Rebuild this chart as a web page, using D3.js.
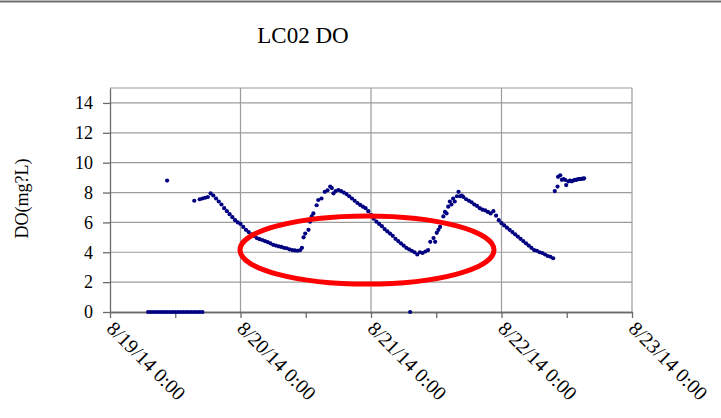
<!DOCTYPE html>
<html>
<head>
<meta charset="utf-8">
<script src="https://cdn.jsdelivr.net/npm/d3@7"></script>
<style>
  body { margin: 0; background: #fff; }
  text { font-family: "Liberation Serif", "Times New Roman", serif; fill: #000; }
</style>
</head>
<body>
<div id="chart"></div>
<script>
// LC02 dissolved oxygen, logger readings as [hours since 8/19/14 0:00, mg/L]
const zeroRun = [
  [7, 0], [7.5, 0], [8, 0], [8.5, 0], [9, 0], [9.5, 0], [10, 0], [10.5, 0], [11, 0],
  [11.5, 0], [12, 0], [12.5, 0], [13, 0], [13.5, 0], [14, 0], [14.5, 0], [15, 0],
  [15.5, 0], [16, 0], [16.5, 0], [17, 0]
]
const strays = [[10.5, 8.8], [55.2, 0]]
const day1 = [
  [15.5, 7.45], [16.5, 7.55], [17, 7.6], [17.5, 7.65], [18, 7.7], [18.5, 7.95], [19, 7.8],
  [19.5, 7.6], [20, 7.4], [20.5, 7.2], [21, 6.95], [21.5, 6.75], [22, 6.55], [22.5, 6.35],
  [23, 6.15], [23.5, 6.0], [24, 5.9], [24.5, 5.7], [25, 5.5], [25.5, 5.35], [26, 5.2],
  [26.5, 5.1], [27, 4.95], [27.5, 4.88], [28, 4.82], [28.5, 4.75], [29, 4.68], [29.5, 4.6],
  [30, 4.5], [30.5, 4.45], [31, 4.4], [31.5, 4.36], [32, 4.3], [32.5, 4.27], [33, 4.2],
  [33.5, 4.15], [34, 4.12], [34.5, 4.1], [35, 4.15], [35.3, 4.3]
]
const day2 = [
  [35.6, 5.0], [35.9, 5.25], [36.5, 5.5], [36.8, 6.05], [37.1, 6.4], [37.4, 6.6], [38, 7.15],
  [38.3, 7.5], [38.9, 7.6], [39.5, 8.05], [40, 8.15], [40.5, 8.4], [40.8, 8.3], [41.1, 7.95],
  [41.5, 8.1], [42, 8.17], [42.5, 8.1], [43, 8.0], [43.5, 7.9], [44, 7.75], [44.5, 7.6],
  [45, 7.45], [45.5, 7.3], [46, 7.17], [46.5, 7.05], [47, 6.95], [47.5, 6.75], [48, 6.5],
  [48.5, 6.25], [49, 6.05], [49.5, 5.9], [50, 5.75], [50.5, 5.55], [51, 5.4], [51.5, 5.25],
  [52, 5.1], [52.5, 4.9], [53, 4.75], [53.5, 4.6], [54, 4.45], [54.5, 4.3], [55, 4.2],
  [55.5, 4.1], [56, 4.0], [56.5, 3.85], [57, 4.0], [57.5, 3.95], [58, 4.05], [58.5, 4.15]
]
const day3 = [
  [58.9, 4.7], [59.5, 4.95], [59.8, 4.7], [60.1, 5.3], [60.4, 5.5], [60.7, 5.7], [61.3, 6.4],
  [61.6, 6.7], [61.9, 6.6], [62.2, 7.05], [62.5, 7.4], [62.8, 7.2], [63.1, 7.6], [63.4, 7.4],
  [63.8, 7.75], [64.1, 8.05], [64.4, 7.75], [64.7, 7.8], [65, 7.7], [65.5, 7.55], [66, 7.45],
  [66.5, 7.35], [67, 7.2], [67.5, 7.1], [68, 6.95], [68.5, 6.85], [69, 6.8], [69.5, 6.7],
  [70, 6.6], [70.5, 6.75], [71, 6.45], [71.5, 6.15], [72, 5.95], [72.5, 5.8], [73, 5.65],
  [73.5, 5.5], [74, 5.35], [74.5, 5.2], [75, 5.05], [75.5, 4.9], [76, 4.75], [76.5, 4.6],
  [77, 4.45], [77.5, 4.3], [78, 4.15], [78.5, 4.1], [79, 4.0], [79.5, 3.95], [80, 3.85],
  [80.5, 3.75], [81, 3.7], [81.5, 3.6]
]
const day4 = [
  [81.8, 8.1], [82.3, 8.4], [82.4, 9.05], [82.8, 9.15], [83.1, 8.85], [83.4, 8.9], [83.7, 8.85],
  [83.9, 8.5], [84.3, 8.75], [84.6, 8.8], [84.9, 8.75], [85.2, 8.8], [85.5, 8.85], [85.8, 8.85],
  [86.1, 8.9], [86.4, 8.9], [86.7, 8.92], [87, 8.93], [87.2, 8.95]
]

const yTicks = [0, 2, 4, 6, 8, 10, 12, 14]
const xTickLabels = ["8/19/14 0:00", "8/20/14 0:00", "8/21/14 0:00", "8/22/14 0:00", "8/23/14 0:00"]
const titleText = "LC02 DO"
const yLabelText = "DO(mg?L)"

const svgWidth = 721
const svgHeight = 418

let margin = { top: 88, right: 89, bottom: 106, left: 110 }
let width = svgWidth - margin.left - margin.right
let height = svgHeight - margin.top - margin.bottom

let svg = d3
  .select("#chart")
  .append("svg")
  .attr("width", svgWidth)
  .attr("height", svgHeight)

// slide edge line along the top
svg.append("line")
  .attr("x1", 0).attr("x2", svgWidth)
  .attr("y1", 1.5).attr("y2", 1.5)
  .attr("stroke", "#6e6e6e")
  .attr("stroke-width", 2)

svg.append("text")
  .attr("x", 303)
  .attr("y", 43)
  .attr("text-anchor", "middle")
  .style("font-size", "23px")
  .text(titleText)

let chartGroup = svg
  .append("g")
  .attr("transform", `translate(${margin.left}, ${margin.top})`)

const start = new Date(2014, 7, 19)
const toDate = h => new Date(start.getTime() + h * 3600 * 1000)
const dayTicks = xTickLabels.map((_, i) => toDate(i * 24))
const halfDayTicks = d3.range(0, 4).map(i => toDate(i * 24 + 12))

let xTimeScale = d3.scaleTime()
  .domain([dayTicks[0], dayTicks[dayTicks.length - 1]])
  .range([0, width])

let yLinearScale = d3.scaleLinear()
  .domain([0, 15])
  .range([height, 0])

// gridlines
chartGroup.append("g")
  .selectAll("line")
  .data(yTicks.slice(1).concat([15]))
  .enter()
  .append("line")
  .attr("x1", 0).attr("x2", width)
  .attr("y1", d => yLinearScale(d)).attr("y2", d => yLinearScale(d))
  .attr("stroke", "#9c9c9c")
  .attr("stroke-width", 1.2)

chartGroup.append("g")
  .selectAll("line")
  .data(dayTicks.slice(1))
  .enter()
  .append("line")
  .attr("x1", d => xTimeScale(d)).attr("x2", d => xTimeScale(d))
  .attr("y1", 0).attr("y2", height)
  .attr("stroke", "#9c9c9c")
  .attr("stroke-width", 1.2)

// axes
let leftAxis = d3.axisLeft(yLinearScale)
  .tickValues(yTicks)
  .tickSizeInner(7)
  .tickSizeOuter(0)
  .tickPadding(10)

let yAxis = chartGroup.append("g").call(leftAxis)
yAxis.selectAll("text").style("font-size", "18px")

let minorAxis = d3.axisBottom(xTimeScale)
  .tickValues(halfDayTicks)
  .tickSizeInner(6)
  .tickSizeOuter(0)
  .tickFormat("")

chartGroup.append("g")
  .attr("transform", `translate(0, ${height})`)
  .call(minorAxis)

let bottomAxis = d3.axisBottom(xTimeScale)
  .tickValues(dayTicks)
  .tickSizeInner(6)
  .tickSizeOuter(0)
  .tickFormat((d, i) => xTickLabels[i])

let xAxis = chartGroup.append("g")
  .attr("transform", `translate(0, ${height})`)
  .call(bottomAxis)

xAxis.selectAll("text")
  .attr("x", 9)
  .attr("y", 9)
  .attr("dy", "0.35em")
  .attr("transform", "rotate(45)")
  .style("text-anchor", "start")
  .style("font-size", "20px")

chartGroup.selectAll(".domain, .tick line")
  .attr("stroke", "#6a6a6a")
  .attr("stroke-width", 1.3)

chartGroup.append("text")
  .attr("transform", "rotate(-90)")
  .attr("x", 0 - (yLinearScale(7.6)))
  .attr("y", 28 - margin.left)
  .attr("text-anchor", "middle")
  .style("font-size", "18px")
  .text(yLabelText)

// readings
let readings = [].concat(zeroRun, strays, day1, day2, day3, day4)

chartGroup.append("g")
  .selectAll("circle")
  .data(readings)
  .enter()
  .append("circle")
  .attr("cx", d => xTimeScale(toDate(d[0])))
  .attr("cy", d => yLinearScale(d[1]))
  .attr("r", 2.1)
  .attr("fill", "#000080")

// red annotation ring
svg.append("ellipse")
  .attr("cx", 367)
  .attr("cy", 250)
  .attr("rx", 127)
  .attr("ry", 34)
  .attr("fill", "none")
  .attr("stroke", "#ff0000")
  .attr("stroke-width", 5)
</script>
</body>
</html>
